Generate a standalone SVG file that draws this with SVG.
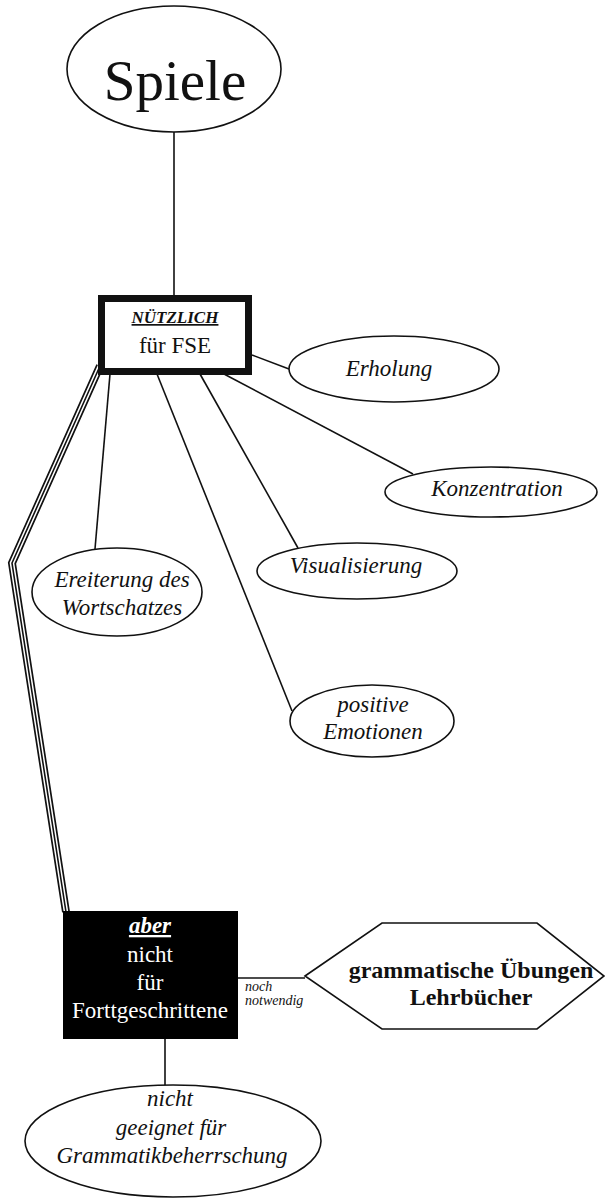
<svg xmlns="http://www.w3.org/2000/svg" width="606" height="1200" viewBox="0 0 606 1200">
<style>
text{font-family:"Liberation Serif","Times New Roman",serif;fill:#111;text-anchor:middle}
.it{font-style:italic;font-size:23px}
.ell{fill:#fff;stroke:#111;stroke-width:1.6}
.ln{stroke:#111;stroke-width:1.6;fill:none}
.wt{fill:#fff}
</style>
<rect width="606" height="1200" fill="#fff"/>
<g id="connectors">
<line class="ln" x1="174" y1="132" x2="174" y2="298"/>
<line class="ln" x1="252" y1="355" x2="289" y2="369"/>
<line class="ln" x1="224" y1="374" x2="413" y2="474"/>
<line class="ln" x1="200" y1="374" x2="298" y2="548"/>
<line class="ln" x1="157" y1="374" x2="292" y2="711"/>
<line class="ln" x1="110" y1="374" x2="95" y2="549"/>
<g id="triple">
<path d="M100 366 L12 563 L66 912" fill="none" stroke="#111" stroke-width="8"/>
<path d="M100 366 L12 563 L66 912" fill="none" stroke="#fff" stroke-width="4.6"/>
<path d="M100 366 L12 563 L66 912" fill="none" stroke="#111" stroke-width="1.6"/>
</g>
<line class="ln" x1="238" y1="978" x2="305" y2="978"/>
<line class="ln" x1="165" y1="1039" x2="165" y2="1086"/>
</g>
<g id="spiele">
<ellipse class="ell" cx="174" cy="69" rx="107" ry="63"/>
<text x="175" y="100" font-size="57">Spiele</text>
</g>
<g id="nuetzlich">
<rect x="101.5" y="298.5" width="147" height="73" fill="#fff" stroke="#111" stroke-width="7"/>
<text x="175" y="323" font-size="17" font-weight="bold" font-style="italic" text-decoration="underline">NÜTZLICH</text>
<text x="175" y="353" font-size="23">für FSE</text>
</g>
<g id="erholung">
<ellipse class="ell" cx="394" cy="369" rx="105" ry="33"/>
<text class="it" x="389" y="376">Erholung</text>
</g>
<g id="konzentration">
<ellipse class="ell" cx="491" cy="492" rx="106" ry="25"/>
<text class="it" x="497" y="496">Konzentration</text>
</g>
<g id="visualisierung">
<ellipse class="ell" cx="357" cy="571" rx="100" ry="28"/>
<text class="it" x="356" y="573">Visualisierung</text>
</g>
<g id="emotionen">
<ellipse class="ell" cx="372" cy="721" rx="82" ry="36"/>
<text class="it" x="373" y="712">positive</text>
<text class="it" x="373" y="739">Emotionen</text>
</g>
<g id="wortschatz">
<ellipse class="ell" cx="117" cy="592" rx="85" ry="44"/>
<text class="it" x="122" y="587">Ereiterung des</text>
<text class="it" x="122" y="615">Wortschatzes</text>
</g>
<g id="aber">
<rect x="63" y="911" width="175" height="128" fill="#000"/>
<text class="wt" x="150" y="933" font-size="23" font-weight="bold" font-style="italic" text-decoration="underline">aber</text>
<text class="wt" x="150" y="962" font-size="23">nicht</text>
<text class="wt" x="150" y="990" font-size="23">für</text>
<text class="wt" x="150" y="1018" font-size="23">Forttgeschrittene</text>
</g>
<g id="noch-label">
<text x="245" y="991" font-size="14" font-style="italic" style="text-anchor:start">noch</text>
<text x="245" y="1005" font-size="14" font-style="italic" style="text-anchor:start">notwendig</text>
</g>
<g id="grammatik">
<polygon points="305,976 382,923 537,923 604,976 537,1029 382,1029" fill="#fff" stroke="#111" stroke-width="1.6"/>
<text x="471" y="978" font-size="24" font-weight="bold">grammatische Übungen</text>
<text x="471" y="1005" font-size="24" font-weight="bold">Lehrbücher</text>
</g>
<g id="geeignet">
<ellipse class="ell" cx="173" cy="1141" rx="148" ry="56"/>
<text class="it" x="170" y="1106">nicht</text>
<text class="it" x="171" y="1135">geeignet für</text>
<text class="it" x="172" y="1163">Grammatikbeherrschung</text>
</g>
</svg>
